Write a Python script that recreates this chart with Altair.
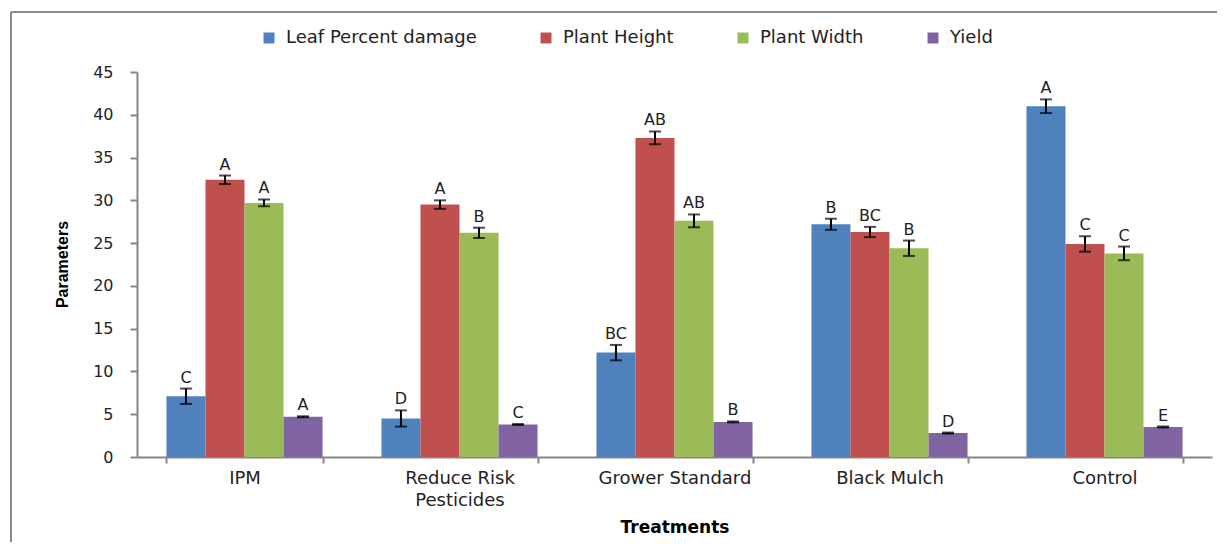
import altair as alt
import pandas as pd

treatments = ["IPM", "Reduce Risk|Pesticides", "Grower Standard", "Black Mulch", "Control"]
series = ["Leaf Percent damage", "Plant Height", "Plant Width", "Yield"]
colors = ["#4F81BD", "#C0504D", "#9BBB59", "#8064A2"]

leaf = [7.1, 4.5, 12.2, 27.2, 41.0]
leaf_err = [0.9, 0.95, 0.9, 0.65, 0.8]
plant_height = [32.4, 29.5, 37.3, 26.3, 24.9]
plant_height_err = [0.5, 0.5, 0.75, 0.6, 0.9]
plant_width = [29.7, 26.2, 27.6, 24.4, 23.8]
plant_width_err = [0.4, 0.6, 0.75, 0.9, 0.8]
yield_vals = [4.7, 3.8, 4.1, 2.8, 3.5]
yield_err = [0.06, 0.06, 0.06, 0.06, 0.06]

leaf_letters = ["C", "D", "BC", "B", "A"]
height_letters = ["A", "A", "AB", "BC", "C"]
width_letters = ["A", "B", "AB", "B", "C"]
yield_letters = ["A", "C", "B", "D", "E"]

y_ticks = [0, 5, 10, 15, 20, 25, 30, 35, 40, 45]

rows = []
for s, vals, errs, lets in [
    (series[0], leaf, leaf_err, leaf_letters),
    (series[1], plant_height, plant_height_err, height_letters),
    (series[2], plant_width, plant_width_err, width_letters),
    (series[3], yield_vals, yield_err, yield_letters),
]:
    for t, v, e, l in zip(treatments, vals, errs, lets):
        rows.append({"treatment": t, "series": s, "value": v,
                     "lo": v - e, "hi": v + e, "letter": l})
df = pd.DataFrame(rows)

FONT = "DejaVu Sans"
AX = "#868686"

x_enc = alt.X(
    "treatment:N", sort=treatments,
    scale=alt.Scale(paddingInner=0.274, paddingOuter=0.137),
    axis=alt.Axis(
        title="Treatments", titleFont=FONT, titleFontWeight="bold", titleFontSize=17,
        titleColor="black", titlePadding=10,
        labelAngle=0, labelFont=FONT, labelFontSize=18, labelColor="#222222",
        labelExpr="split(datum.label, '|')", labelLineHeight=22, labelPadding=6,
        labelBaseline="top",
        domainColor=AX, domainWidth=2, tickColor=AX, tickWidth=2, tickSize=6,
        tickBand="extent", grid=False,
    ),
)
xo_enc = alt.XOffset("series:N", sort=series,
                     scale=alt.Scale(paddingInner=0, paddingOuter=0))
y_scale = alt.Scale(domain=[0, 45], nice=False)

base = alt.Chart(df)

bars = base.mark_bar().encode(
    x=x_enc, xOffset=xo_enc,
    y=alt.Y("value:Q", scale=y_scale,
            axis=alt.Axis(
                values=y_ticks, title="Parameters",
                titleFont="Liberation Sans",
                titleFontWeight="bold", titleFontSize=16, titleColor="black",
                titleX=-75, titleY=192, titleAngle=-90, titleBaseline="middle",
                titleAlign="center",
                labelFont=FONT, labelFontSize=16, labelColor="#222222", labelPadding=17,
                domainColor=AX, domainWidth=2, tickColor=AX, tickWidth=2, tickSize=7,
                grid=False,
            )),
    color=alt.Color("series:N", sort=series,
                    scale=alt.Scale(domain=series, range=colors),
                    legend=alt.Legend(
                        title=None, orient="none", legendX=123, legendY=-43,
                        direction="horizontal", columns=4, symbolType="square",
                        symbolSize=121, symbolStrokeWidth=0, labelFont=FONT,
                        labelFontSize=18, labelColor="#222222", labelOffset=8,
                        labelLimit=400, columnPadding=60,
                    )),
)

err_rule = base.mark_rule(color="black", strokeWidth=2).encode(
    x=x_enc, xOffset=xo_enc, y=alt.Y("lo:Q", scale=y_scale), y2="hi:Q")
cap_hi = base.mark_tick(color="black", orient="horizontal", size=12, thickness=2).encode(
    x=x_enc, xOffset=xo_enc, y=alt.Y("hi:Q", scale=y_scale))
cap_lo = base.mark_tick(color="black", orient="horizontal", size=12, thickness=2).encode(
    x=x_enc, xOffset=xo_enc, y=alt.Y("lo:Q", scale=y_scale))
letters = base.mark_text(font=FONT, fontSize=16, color="#222222", dy=-6,
                         baseline="alphabetic").encode(
    x=x_enc, xOffset=xo_enc, y=alt.Y("hi:Q", scale=y_scale), text="letter:N")

frame_df = pd.DataFrame({"k": [0]})
frame_left = alt.Chart(frame_df).mark_rule(color="#8a8a8a", strokeWidth=2).encode(
    x=alt.value(-126), y=alt.value(-60), y2=alt.value(480))
frame_top = alt.Chart(frame_df).mark_rule(color="#8a8a8a", strokeWidth=2).encode(
    x=alt.value(-126), x2=alt.value(1090), y=alt.value(-60))

chart = alt.layer(bars, err_rule, cap_hi, cap_lo, letters, frame_left, frame_top).properties(
    width=1075, height=385,
    autosize=alt.AutoSizeParams(type="none"),
    padding={"left": 129, "top": 64, "right": 5, "bottom": 85},
).configure_view(stroke=None)

chart.save("out.html", embed_options={"renderer": "svg", "actions": False})
